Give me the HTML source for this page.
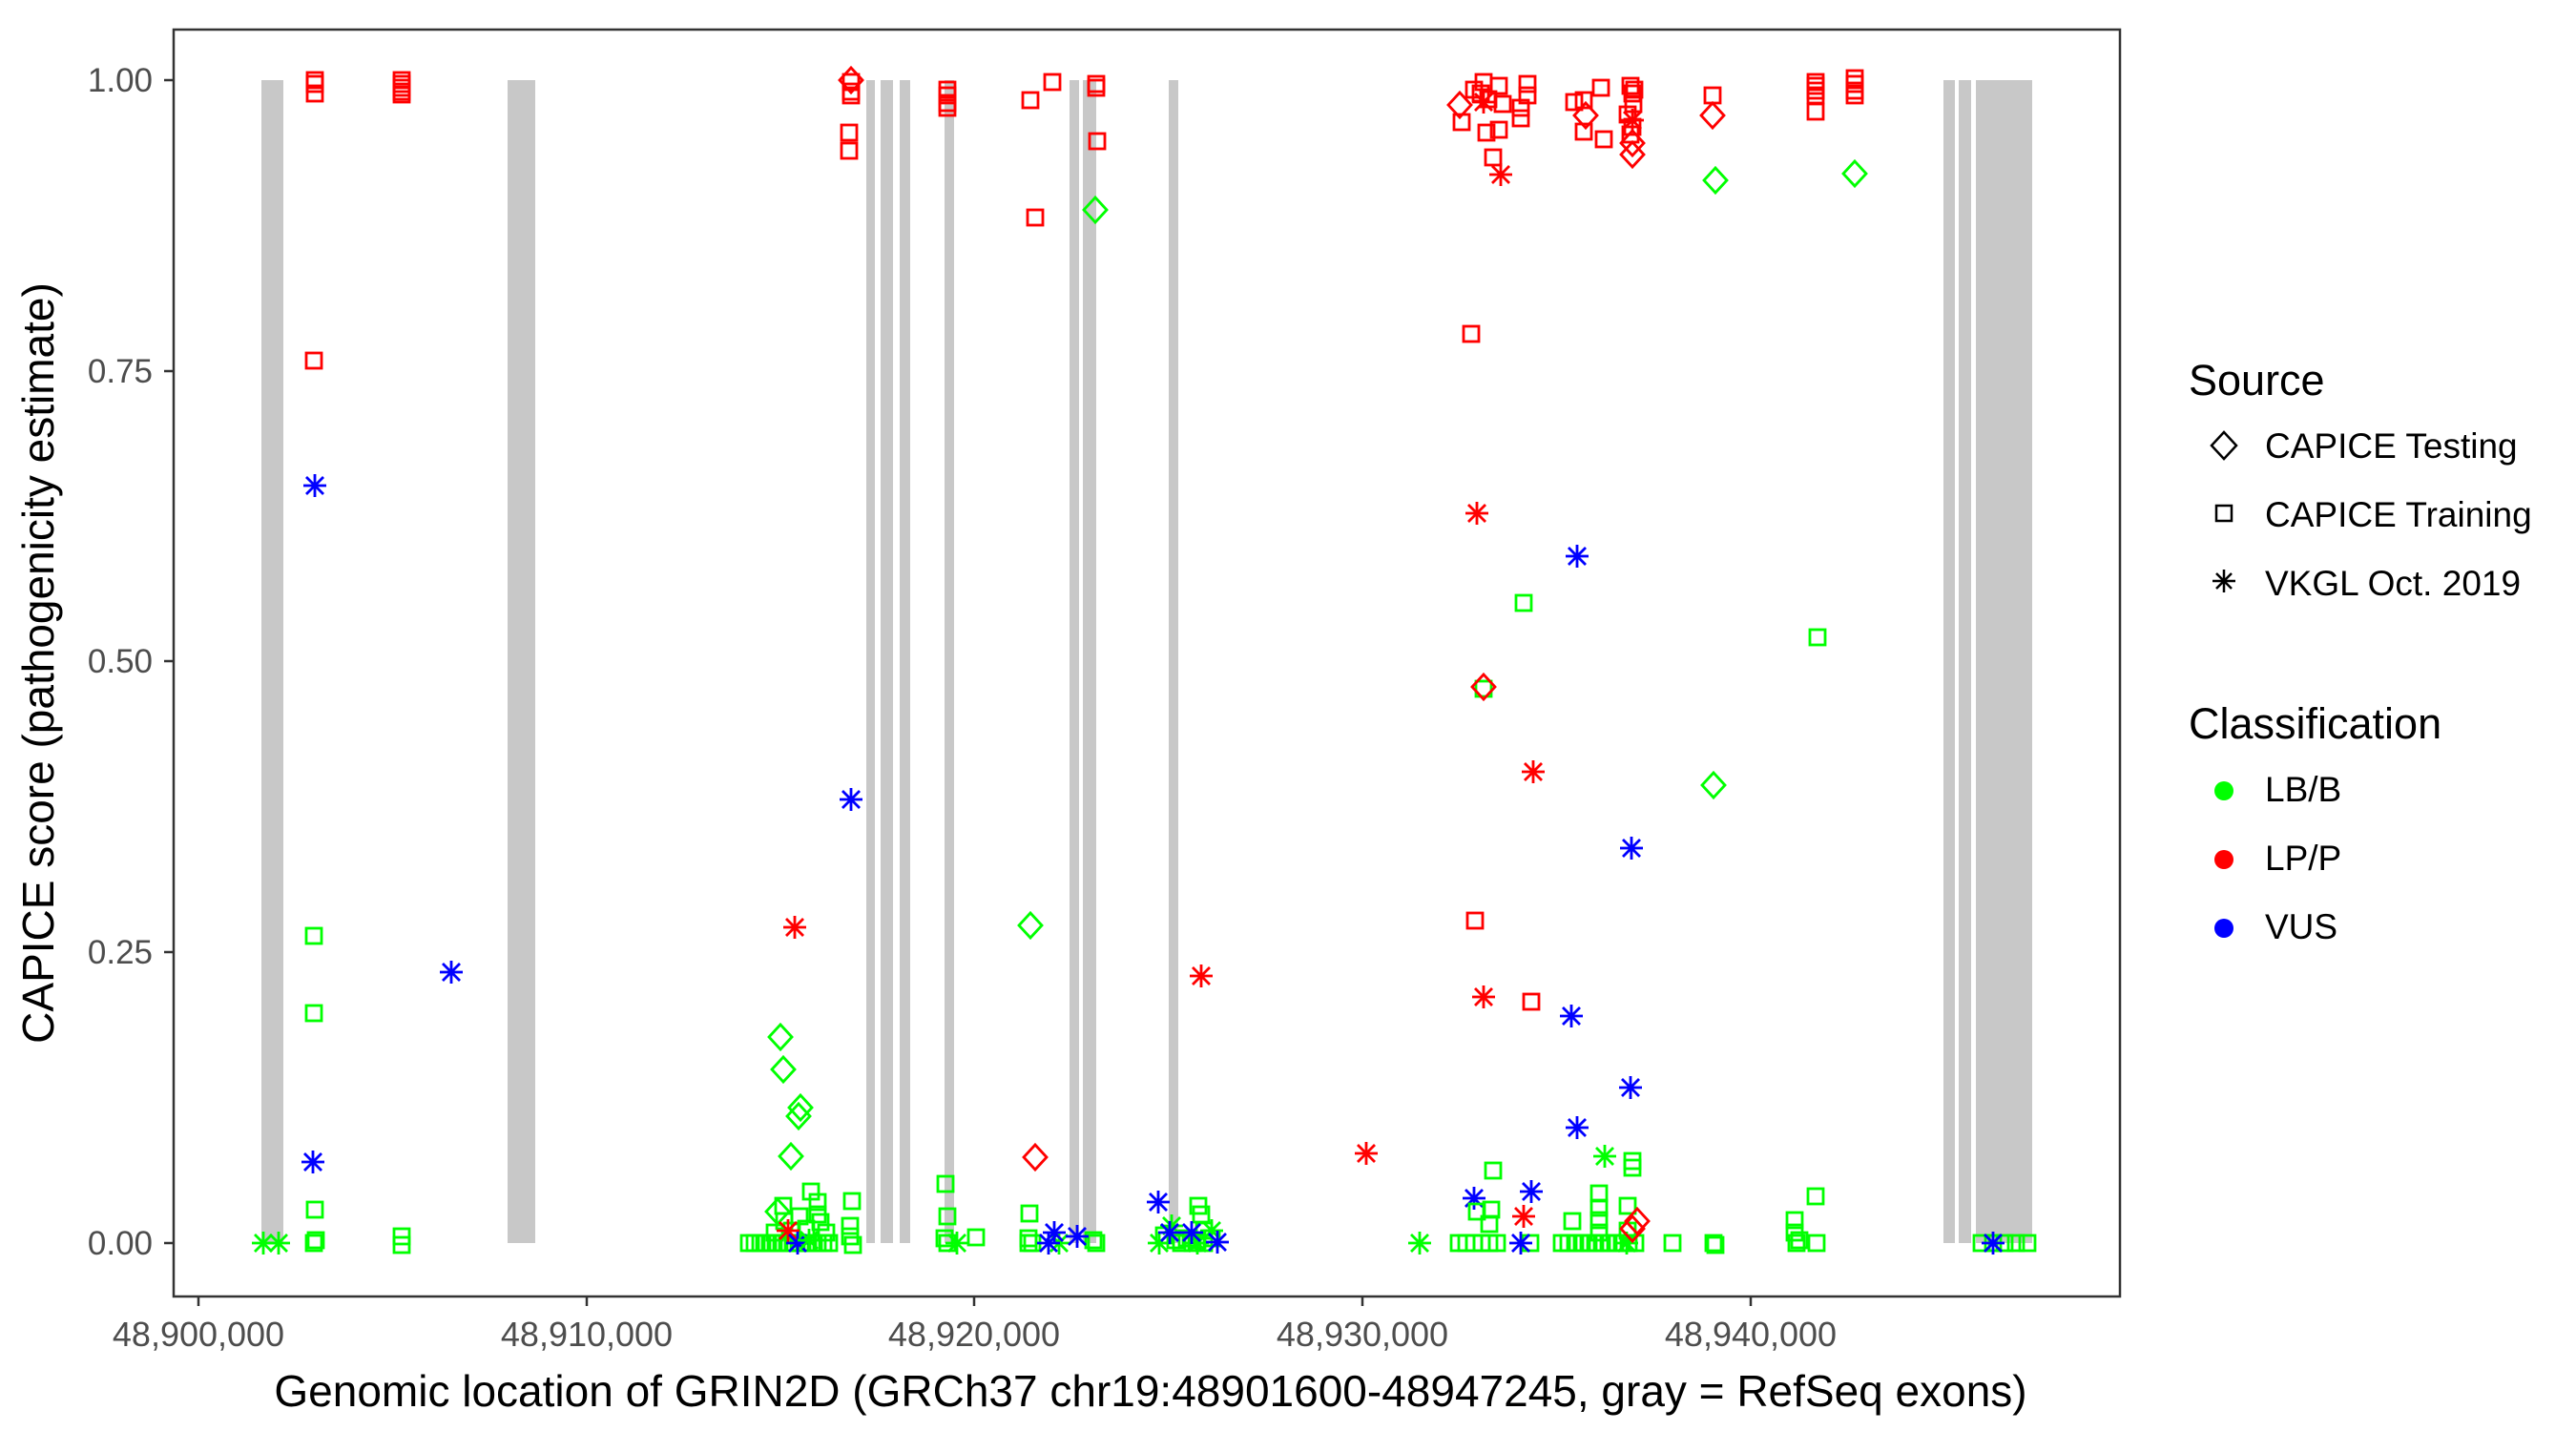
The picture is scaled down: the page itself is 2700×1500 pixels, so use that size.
<!DOCTYPE html>
<html><head><meta charset="utf-8"><style>
html,body{margin:0;padding:0;background:#fff;}
svg{display:block;}
text{font-family:"Liberation Sans",Arial,sans-serif;}
</style></head><body>
<svg id="s" width="2700" height="1500" viewBox="0 0 2700 1500" xmlns="http://www.w3.org/2000/svg">
<rect x="0" y="0" width="2700" height="1500" fill="#fff"/>
<g fill="#C8C8C8">
<rect x="274" y="84" width="23" height="1219"/>
<rect x="532" y="84" width="29" height="1219"/>
<rect x="908" y="84" width="9" height="1219"/>
<rect x="923" y="84" width="13" height="1219"/>
<rect x="943" y="84" width="11" height="1219"/>
<rect x="990" y="84" width="10" height="1219"/>
<rect x="1121" y="84" width="10" height="1219"/>
<rect x="1135" y="84" width="14" height="1219"/>
<rect x="1225" y="84" width="10" height="1219"/>
<rect x="2037" y="84" width="12" height="1219"/>
<rect x="2053" y="84" width="13" height="1219"/>
<rect x="2071" y="84" width="59" height="1219"/>
</g>
<g id="pts" fill="none" stroke-width="2.8"></g>
<rect x="182" y="31" width="2040" height="1328" fill="none" stroke="#333" stroke-width="2.5"/>
<g stroke="#333" stroke-width="2.5">
<line x1="172" y1="84" x2="182" y2="84"/><line x1="172" y1="389" x2="182" y2="389"/>
<line x1="172" y1="693" x2="182" y2="693"/><line x1="172" y1="998" x2="182" y2="998"/>
<line x1="172" y1="1303" x2="182" y2="1303"/>
<line x1="208" y1="1359" x2="208" y2="1369"/><line x1="615" y1="1359" x2="615" y2="1369"/>
<line x1="1021" y1="1359" x2="1021" y2="1369"/><line x1="1428" y1="1359" x2="1428" y2="1369"/>
<line x1="1835" y1="1359" x2="1835" y2="1369"/>
</g>
<g fill="#4d4d4d" font-size="35" text-anchor="end">
<text x="160" y="96">1.00</text><text x="160" y="401">0.75</text>
<text x="160" y="705">0.50</text><text x="160" y="1010">0.25</text>
<text x="160" y="1315">0.00</text>
</g>
<g fill="#4d4d4d" font-size="36" text-anchor="middle">
<text x="208" y="1411">48,900,000</text><text x="615" y="1411">48,910,000</text>
<text x="1021" y="1411">48,920,000</text><text x="1428" y="1411">48,930,000</text>
<text x="1835" y="1411">48,940,000</text>
</g>
<text x="1206" y="1474" font-size="46" text-anchor="middle" fill="#000">Genomic location of GRIN2D (GRCh37 chr19:48901600-48947245, gray = RefSeq exons)</text>
<text transform="translate(56,695) rotate(-90)" font-size="46" text-anchor="middle" fill="#000">CAPICE score (pathogenicity estimate)</text>
<g fill="#000">
<text x="2294" y="414" font-size="45">Source</text>
<text x="2374" y="480" font-size="37">CAPICE Testing</text>
<text x="2374" y="552" font-size="37">CAPICE Training</text>
<text x="2374" y="624" font-size="37">VKGL Oct. 2019</text>
<text x="2294" y="774" font-size="45">Classification</text>
<text x="2374" y="840" font-size="37">LB/B</text>
<text x="2374" y="912" font-size="37">LP/P</text>
<text x="2374" y="984" font-size="37">VUS</text>
</g>
<g stroke="#000" stroke-width="2.5" fill="none">
<polygon points="2331,453 2344,467 2331,481 2318,467"/>
<rect x="2323" y="530" width="16" height="16"/>
<path d="M2319,609h24M2331,597v24M2323,601l16,16M2339,601l-16,16"/>
</g>
<circle cx="2331" cy="829" r="10" fill="#00FF00"/>
<circle cx="2331" cy="901" r="10" fill="#FF0000"/>
<circle cx="2331" cy="973" r="10" fill="#0000FF"/>
</svg>
<script>
var G="#00FF00",R="#FF0000",B="#0000FF";
var P=[];
function a(x,y,s,c){P.push([x,y,s,c]);}
[84,88,98].forEach(function(y){a(330,y,'s',R);});
[84,88,92,96,99].forEach(function(y){a(421,y,'s',R);});
a(329,378,'s',R);a(330,509,'a',B);
a(892,84,'d',R);[86,96,100].forEach(function(y){a(892,y,'s',R);});
a(890,139,'s',R);a(890,158,'s',R);
[94,100,108,113].forEach(function(y){a(993,y,'s',R);});
a(1080,105,'s',R);a(1103,86,'s',R);a(1085,228,'s',R);
a(1149,88,'s',R);a(1149,92,'s',R);a(1150,148,'s',R);a(1148,220,'d',G);
[[1555,86],[1571,90],[1601,88],[1601,100],[1552,98],[1575,109],[1532,128],[1558,139],[1571,136],[1594,124],[1594,113],[1565,165],[1545,94],[1560,104]].forEach(function(p){a(p[0],p[1],'s',R);});
a(1530,110,'d',R);a(1555,107,'a',R);a(1573,183,'a',R);
[[1650,107],[1660,105],[1678,92],[1660,138],[1681,146],[1709,90],[1711,98],[1712,109],[1706,120],[1709,141],[1711,133],[1713,94]].forEach(function(p){a(p[0],p[1],'s',R);});
a(1662,121,'d',R);a(1711,162,'d',R);a(1711,150,'d',R);a(1711,126,'a',R);
a(1795,100,'s',R);a(1795,121,'d',R);a(1798,189,'d',G);
[86,90,95,100,117].forEach(function(y){a(1903,y,'s',R);});
[82,88,95,100].forEach(function(y){a(1944,y,'s',R);});
a(1944,182,'d',G);a(1542,350,'s',R);a(1548,538,'a',R);a(1653,583,'a',B);
a(1597,632,'s',G);a(1905,668,'s',G);
a(892,838,'a',B);a(329,981,'s',G);a(329,1062,'s',G);a(473,1019,'a',B);
a(833,972,'a',R);a(1080,970,'d',G);
[[818,1087],[821,1121],[839,1161],[837,1170],[829,1212]].forEach(function(p){a(p[0],p[1],'d',G);});
a(1085,1213,'d',R);a(328,1218,'a',B);
a(330,1268,'s',G);a(329,1303,'s',G);a(331,1300,'s',G);a(421,1296,'s',G);a(421,1305,'s',G);
a(276,1303,'a',G);a(292,1303,'a',G);
[[850,1249],[893,1259],[821,1264],[857,1260],[857,1273],[860,1281],[891,1285],[891,1296],[894,1305],[822,1280],[830,1290],[845,1288],[812,1292],[866,1292],[838,1275]].forEach(function(p){a(p[0],p[1],'s',G);});
for(var x=785;x<=872;x+=6)a(x,1303,'s',G);
a(815,1270,'d',G);
a(826,1290,'a',R);a(836,1303,'a',B);a(848,1300,'a',G);
a(991,1241,'s',G);a(993,1275,'s',G);a(990,1298,'s',G);a(993,1303,'s',G);a(1023,1297,'s',G);a(1003,1303,'a',G);
a(1079,1272,'s',G);a(1078,1298,'s',G);a(1078,1303,'s',G);a(1082,1303,'s',G);a(1149,1303,'s',G);a(1146,1300,'s',G);
a(1110,1303,'a',G);a(1105,1292,'a',B);a(1129,1296,'a',B);a(1099,1303,'a',B);
a(1555,722,'s',G);a(1555,720,'d',R);
a(1607,809,'a',R);a(1796,823,'d',G);a(1710,889,'a',B);a(1546,965,'s',R);
a(1259,1023,'a',R);a(1555,1045,'a',R);a(1605,1050,'s',R);a(1647,1065,'a',B);
a(1709,1140,'a',B);a(1653,1182,'a',B);a(1432,1209,'a',R);
a(1682,1212,'a',G);a(1711,1217,'s',G);a(1711,1224,'s',G);a(1565,1227,'s',G);
a(1903,1254,'s',G);a(1256,1264,'s',G);a(1259,1273,'s',G);
[[1220,1295],[1232,1300],[1244,1298],[1255,1300],[1262,1290],[1270,1298],[1238,1303],[1250,1303],[1262,1303]].forEach(function(p){a(p[0],p[1],'s',G);});
a(1215,1303,'a',G);a(1228,1285,'a',G);a(1270,1290,'a',G);a(1255,1303,'a',G);
a(1214,1260,'a',B);a(1545,1256,'a',B);a(1605,1249,'a',B);
a(1226,1292,'a',B);a(1249,1292,'a',B);a(1276,1302,'a',B);
[[1648,1280],[1676,1251],[1676,1266],[1676,1279],[1706,1264],[1881,1279],[1881,1292],[1548,1270],[1563,1268],[1561,1283],[1676,1292],[1706,1290]].forEach(function(p){a(p[0],p[1],'s',G);});
for(var x=1529;x<=1576;x+=8)a(x,1303,'s',G);
a(1604,1303,'s',G);
for(var x=1637;x<=1720;x+=7)a(x,1303,'s',G);
a(1753,1303,'s',G);a(1796,1303,'s',G);a(1798,1305,'s',G);a(1883,1303,'s',G);a(1886,1300,'s',G);a(1904,1303,'s',G);
a(1488,1303,'a',G);a(1705,1303,'a',G);
a(1597,1275,'a',R);a(1716,1280,'d',R);a(1711,1288,'d',R);a(1594,1303,'a',B);
for(var x=2077;x<=2127;x+=12)a(x,1303,'s',G);
a(2089,1303,'a',B);
var h='';
P.forEach(function(p){
 var x=p[0],y=p[1],c=p[3];
 if(p[2]=='s')h+='<rect x="'+(x-8)+'" y="'+(y-8)+'" width="16" height="16" stroke="'+c+'"/>';
 else if(p[2]=='d')h+='<polygon points="'+x+','+(y-13)+' '+(x+12)+','+y+' '+x+','+(y+13)+' '+(x-12)+','+y+'" stroke="'+c+'"/>';
 else h+='<path d="M'+(x-12)+','+y+'h24M'+x+','+(y-12)+'v24M'+(x-9)+','+(y-9)+'l18,18M'+(x+9)+','+(y-9)+'l-18,18" stroke="'+c+'"/>';
});
document.getElementById('pts').innerHTML=h;
</script>
</body></html>
